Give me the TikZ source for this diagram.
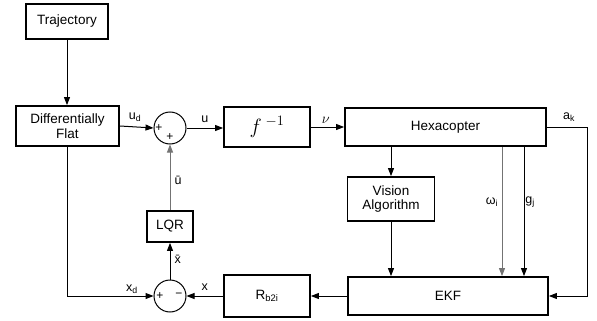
\documentclass[tikz,border=0pt]{standalone}
\usepackage{fontspec}
\setmainfont{Liberation Sans}
\usetikzlibrary{arrows.meta,calc}
\begin{document}
\begin{tikzpicture}[x=1pt,y=-1pt,
  blk/.style={draw,line width=1.8pt,inner sep=0pt,align=center,font=\fontsize{13.5}{15.5}\selectfont},
  sumc/.style={draw,circle,line width=1pt,minimum size=32pt,inner sep=0pt},
  con/.style={line width=1pt,-{Triangle[length=8pt,width=6pt]}},
  lab/.style={font=\fontsize{12.5}{14}\selectfont,inner sep=0pt,text=black},
  sgn/.style={font=\fontsize{12}{14}\selectfont,inner sep=0pt}]
\useasboundingbox (0,0) rectangle (597,321);
\node[blk,minimum width=82pt,minimum height=35pt] (traj) at (67,21.5) {Trajectory};
\node[blk,minimum width=103pt,minimum height=40pt] (df) at (67.5,126) {Differentially\\[-1pt]Flat};
\node[blk,minimum width=86pt,minimum height=40pt] (finv) at (267,127) {\fontsize{21}{24}\selectfont$f^{\;-1}$};
\node[blk,minimum width=201pt,minimum height=38pt] (hexa) at (445.5,127) {Hexacopter};
\node[blk,minimum width=87pt,minimum height=44pt] (vis) at (391,199) {Vision\\[-1pt]Algorithm};
\node[blk,minimum width=200pt,minimum height=38pt] (ekf) at (448,296) {EKF};
\node[blk,minimum width=86pt,minimum height=42pt] (rb) at (267,296) {R\textsubscript{b2i}};
\node[blk,minimum width=46pt,minimum height=31pt] (lqr) at (170,226.5) {LQR};
\node[sumc] (s1) at (170,128) {};
\node[sumc] (s2) at (170,296) {};
\node[sgn] (p1) at (159,128) {+};
\node[sgn] (p2) at (170,137.5) {+};
\node[sgn] (p3) at (160,296) {+};
\node[sgn] (m1) at (179,295.5) {−};
\coordinate (cw) at (502,0);
\coordinate (cg) at (524,0);
\coordinate (ca) at (587,0);
\coordinate (cx) at (67,0);
% connectors
\draw[con] (traj.south -| cx) -- (df.north -| cx);
\draw[con] (df.east) -- (s1.west) node[lab,pos=0.45,above=5pt] (lud) {u\textsubscript{d}};
\draw[con] (s1.east) -- (s1.east -| finv.west) node[lab,midway,above=5pt] (lu) {u};
\draw[con] (finv.east) -- (finv.east -| hexa.west) node[lab,pos=0.45,above=3pt] (lnu) {\fontsize{15}{16}\selectfont$\nu$};
\draw[con] (hexa.east) -- (hexa.east -| ca) -- (ekf.east -| ca) -- (ekf.east);
\node[lab] (lak) at (569,117) {a\textsubscript{k}};
\draw[con] (hexa.south -| vis.north) -- (vis.north);
\draw[con,black!55] (hexa.south -| cw) -- (ekf.north -| cw);
\draw[con] (hexa.south -| cg) -- (ekf.north -| cg);
\node[lab] (lw) at (492,202) {ω\textsubscript{i}};
\node[lab] (lg) at (530,202) {g\textsubscript{j}};
\draw[con] (vis.south) -- (vis.south |- ekf.north);
\draw[con] (ekf.west) -- (rb.east);
\draw[con] (rb.west) -- (s2.east) node[lab,midway,above=5pt] (lx) {x};
\draw[con] (df.south -| cx) -- (s2.west -| cx) -- (s2.west);
\node[lab] (lxd) at (132,289) {x\textsubscript{d}};
\draw[con] (s2.north) -- (lqr.south) node[lab,pos=0.55,right=4pt] (lxb) {\={x}};
\draw[con,black!55] (lqr.north) -- (s1.south) node[lab,pos=0.45,right=4pt] (lub) {ū};
\end{tikzpicture}
\end{document}
